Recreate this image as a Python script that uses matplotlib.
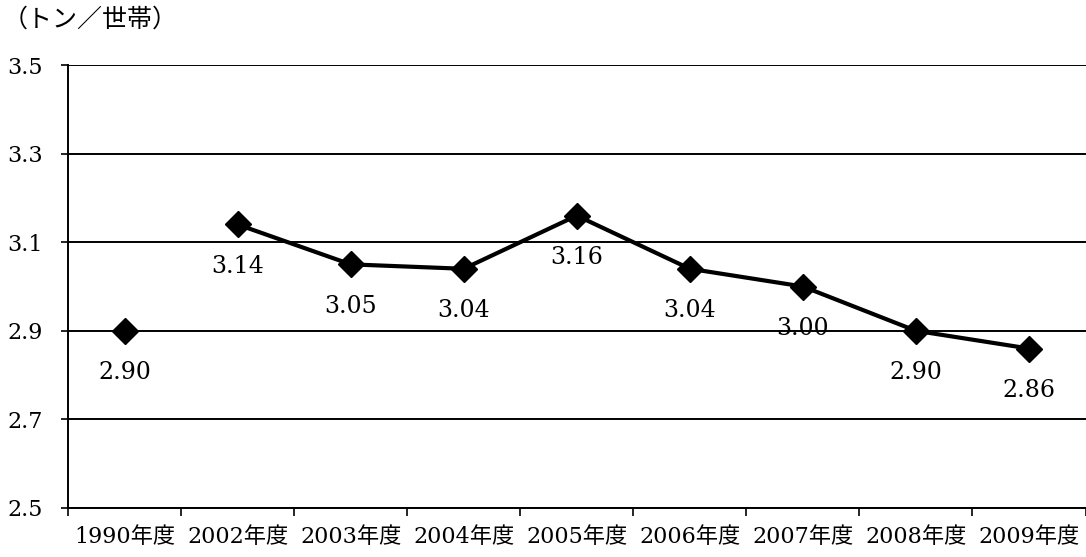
import matplotlib
matplotlib.use("Agg")
import matplotlib.pyplot as plt
import numpy as np

categories = ["1990年度", "2002年度", "2003年度", "2004年度", "2005年度",
              "2006年度", "2007年度", "2008年度", "2009年度"]
values = [2.90, 3.14, 3.05, 3.04, 3.16, 3.04, 3.00, 2.90, 2.86]
labels = ["2.90", "3.14", "3.05", "3.04", "3.16", "3.04", "3.00", "2.90", "2.86"]
yticks = [2.5, 2.7, 2.9, 3.1, 3.3, 3.5]
unit_label = "（トン／世帯）"

fam = ["DejaVu Serif", "Noto Sans CJK JP"]

fig = plt.figure(figsize=(10.86, 5.57), dpi=100)
ax = fig.add_axes([68 / 1086, 1 - 508 / 557, (1085.5 - 68) / 1086, (508 - 65) / 557])

x = np.arange(len(categories))
# 1990 isolated point
ax.plot(x[:1], values[:1], marker="D", color="black", markersize=13, linestyle="none", zorder=3)
# connected series 2002-2009
ax.plot(x[1:], values[1:], marker="D", color="black", markersize=13, linewidth=3, zorder=3)

for xi, v, lab in zip(x, values, labels):
    ax.annotate(lab, (xi, v), xytext=(0, -30), textcoords="offset points",
                ha="center", va="center", fontsize=17, family=fam)

ax.set_xlim(-0.5, len(categories) - 0.5)
ax.set_ylim(2.5, 3.5)
ax.set_yticks(yticks)
ax.set_yticklabels([f"{t:.1f}" for t in yticks], family=fam, fontsize=16)
ax.yaxis.grid(True, color="black", linewidth=1.4)
ax.set_axisbelow(True)

ax.set_xticks(x)
ax.set_xticklabels(categories, family=fam, fontsize=16)
ax.tick_params(axis="x", length=0, pad=13)
ax.set_xticks(np.arange(len(categories) + 1) - 0.5, minor=True)
ax.tick_params(axis="x", which="minor", length=6, direction="out", width=1.2)
ax.tick_params(axis="y", length=5, direction="out", width=1.2, pad=13)

for s in ["top", "right"]:
    ax.spines[s].set_visible(False)
for s in ["left", "bottom"]:
    ax.spines[s].set_linewidth(1.4)
    ax.spines[s].set_color("black")

fig.text(3 / 1086, 1 - 20 / 557, unit_label, family=["Noto Sans CJK JP"], fontsize=18,
         ha="left", va="center")

fig.savefig("out.png", dpi=100)
